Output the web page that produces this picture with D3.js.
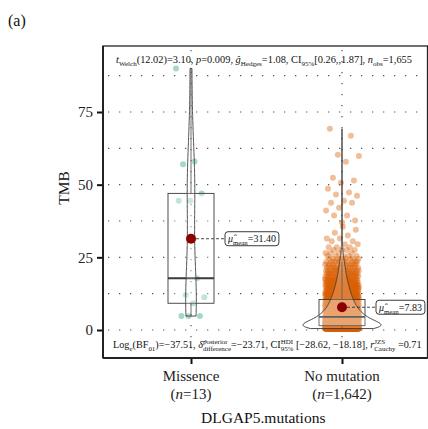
<!DOCTYPE html>
<html>
<head>
<meta charset="utf-8">
<script src="https://cdn.jsdelivr.net/npm/d3@7"></script>
<style>
  body { margin: 0; background: #fff; }
  svg { font-family: "Liberation Serif", "Times New Roman", serif; }
</style>
</head>
<body>
<div id="chart"></div>
<script>
// categories and counts
const categories = ["Missence", "No mutation"];
const groupN = ["13", "1,642"];
const meanValues = [31.40, 7.83];
const meanLabels = ["31.40", "7.83"];

// Missence TMB values (13 samples)
const missenceTMB = [90, 58, 57, 47, 44.5, 44.5, 17.8, 12, 11.3, 9.2, 4.8, 4.8, 4.8];

// No mutation: dense part given as TMB value + number of samples at it
const noMutValues = [0.5, 1.5, 2.5, 3.5, 4.5, 5.5, 6.5, 7.5, 8.5, 9.5, 10.5,
  11.5, 12.5, 13.5, 14.5, 15.5, 16.5, 17.5, 18.5, 19.5, 20.5, 21.5, 22.5, 23.5, 24.5,
  25.5, 26.5, 27.5, 28.5, 29.5, 30.5, 31.5, 32.5, 33.5, 34.5, 35.5, 36.5];
const noMutCounts = [230, 240, 150, 130, 110, 90, 80, 70, 60, 55, 50,
  45, 40, 36, 32, 29, 26, 23, 20, 18, 16, 14, 12, 10, 9,
  5, 4, 4, 3, 2, 2, 2, 1, 1, 1, 1, 0];
// No mutation: sparse high values
const noMutHigh = [69.2, 66.8, 60.3, 59.9, 57.9, 52.4, 51.4, 50.7, 48.6, 47.3, 46.6,
  46.2, 44.5, 43.8, 43.8, 42.1, 41.1, 39.4, 39.4, 37.7, 37.0];

const yTicks = [0, 25, 50, 75];
const yMinor = [12.5, 37.5, 62.5, 87.5];

const pointColors = ["#1B9E77", "#D95F02"];

// build full sample arrays
const noMutTMB = [];
noMutValues.forEach((v, i) => { for (let k = 0; k < noMutCounts[i]; k++) noMutTMB.push(v); });
noMutHigh.forEach(v => noMutTMB.push(v));
const groups = [missenceTMB, noMutTMB];

const width = 428, height = 429;
const panel = { left: 103, right: 427.5, top: 46, bottom: 358 };

const svg = d3.select("#chart").append("svg")
  .attr("width", width)
  .attr("height", height);

const x = d3.scalePoint().domain(categories).range([191, 342]);
const y = d3.scaleLinear().domain([0, 75]).range([330, 112]);

// grid lines (dotted)
const grid = svg.append("g").attr("stroke", "#555").attr("stroke-width", 1.2)
  .attr("stroke-dasharray", "1.3,9.7");
grid.selectAll(".hg")
  .data(yTicks.concat(yMinor))
  .enter().append("line")
  .attr("x1", panel.left + 5).attr("x2", panel.right)
  .attr("y1", d => y(d)).attr("y2", d => y(d));
grid.selectAll(".vg")
  .data(categories)
  .enter().append("line")
  .attr("x1", d => x(d)).attr("x2", d => x(d))
  .attr("y1", panel.top + 4).attr("y2", panel.bottom);

// jittered points
const jitterW = [15, 17];
groups.forEach((vals, gi) => {
  const cx = x(categories[gi]);
  svg.append("g").selectAll("circle")
    .data(vals)
    .enter().append("circle")
    .attr("cx", (d, i) => cx + (((i * 0.6180339887 + 0.31 * gi) % 1) * 2 - 1) * jitterW[gi])
    .attr("cy", d => y(d))
    .attr("r", 3)
    .attr("fill", pointColors[gi])
    .attr("fill-opacity", 0.4);
});

// box plots
const boxHalf = 23;
groups.forEach((vals, gi) => {
  const cx = x(categories[gi]);
  const s = vals.slice().sort(d3.ascending);
  const q1 = d3.quantile(s, 0.25), med = d3.quantile(s, 0.5), q3 = d3.quantile(s, 0.75);
  const iqr = q3 - q1;
  const hi = d3.max(s.filter(v => v <= q3 + 1.5 * iqr));
  const lo = d3.min(s.filter(v => v >= q1 - 1.5 * iqr));
  const g = svg.append("g").attr("stroke", "#3a3a3a").attr("stroke-width", 0.9);
  g.append("line").attr("x1", cx).attr("x2", cx).attr("y1", y(q3)).attr("y2", y(hi));
  g.append("line").attr("x1", cx).attr("x2", cx).attr("y1", y(q1)).attr("y2", y(lo));
  g.append("rect")
    .attr("x", cx - boxHalf).attr("width", boxHalf * 2)
    .attr("y", y(q3)).attr("height", y(q1) - y(q3))
    .attr("fill", "#fff").attr("fill-opacity", 0.3);
  g.append("line").attr("x1", cx - boxHalf).attr("x2", cx + boxHalf)
    .attr("y1", y(med)).attr("y2", y(med)).attr("stroke-width", 1.8);
});

// violins (gaussian kde, trimmed, equal area scaling)
function bwNrd0(v) {
  const s = v.slice().sort(d3.ascending);
  const iqr = d3.quantile(s, 0.75) - d3.quantile(s, 0.25);
  return 0.9 * Math.min(d3.deviation(s), iqr / 1.34) * Math.pow(s.length, -0.2);
}
const dens = groups.map(vals => {
  const bw = bwNrd0(vals);
  const lo = d3.min(vals), hi = d3.max(vals);
  return d3.range(0, 201).map(k => {
    const t = lo + (hi - lo) * k / 200;
    const d = d3.mean(vals, v => Math.exp(-0.5 * ((t - v) / bw) ** 2)) / (bw * Math.sqrt(2 * Math.PI));
    return [t, d];
  });
});
const maxD = d3.max(dens, ds => d3.max(ds, d => d[1]));
const violinHalf = 39;
dens.forEach((ds, gi) => {
  const cx = x(categories[gi]);
  const area = d3.area()
    .y(d => y(d[0]))
    .x0(d => cx - d[1] / maxD * violinHalf)
    .x1(d => cx + d[1] / maxD * violinHalf);
  svg.append("path")
    .datum(ds)
    .attr("d", area)
    .attr("fill", "#fff").attr("fill-opacity", 0.2)
    .attr("stroke", "#3a3a3a").attr("stroke-width", 0.9);
});

// rich text helper: parts = [text, pos ("", "sub", "sup"), italic, stackUnderPrev]
function richText(parent, x0, y0, parts, size, targetW) {
  function build(fs) {
    const t = parent.append("text").attr("x", x0).attr("y", y0).attr("font-size", fs).attr("fill", "#111");
    let shift = 0, prevW = 0, pad = 0;
    parts.forEach(p => {
      const [str, pos, it, under] = p;
      const target = pos === "sub" ? 0.28 * fs : pos === "sup" ? -0.38 * fs : 0;
      const ts = t.append("tspan")
        .attr("dy", target - shift)
        .attr("font-size", pos ? fs * 0.68 : fs)
        .attr("font-style", it ? "italic" : "normal")
        .text(str);
      let dx = pad;
      if (under) dx = -prevW;
      if (dx) ts.attr("dx", dx);
      shift = target;
      const w = ts.node().getComputedTextLength();
      pad = under ? Math.max(0, prevW - w) : 0;
      prevW = w;
    });
    return t;
  }
  let t = build(size);
  if (targetW) {
    const w = t.node().getBBox().width;
    t.remove();
    t = build(size * targetW / w);
  }
  return t;
}

// mean points and labels
meanValues.forEach((m, gi) => {
  const cx = x(categories[gi]), cy = y(m);
  const lx = cx + 34;
  const lab = richText(svg, lx + 3, cy + 3.5, [["\u03BC\u0302", "", true], ["mean", "sub", false], ["=" + meanLabels[gi], "", false]], 10);
  const bb = lab.node().getBBox();
  svg.insert("rect", () => lab.node())
    .attr("x", lx).attr("y", cy - 7)
    .attr("width", bb.width + 5).attr("height", 14)
    .attr("rx", 3)
    .attr("fill", "#fff").attr("stroke", "#222").attr("stroke-width", 0.9);
  svg.append("line")
    .attr("x1", cx).attr("x2", lx).attr("y1", cy).attr("y2", cy)
    .attr("stroke", "#333").attr("stroke-width", 0.9).attr("stroke-dasharray", "3,2");
  svg.append("circle")
    .attr("cx", cx).attr("cy", cy).attr("r", 5)
    .attr("fill", "#8B0000");
});

// panel frame
svg.append("rect")
  .attr("x", panel.left).attr("y", panel.top)
  .attr("width", panel.right - panel.left).attr("height", panel.bottom - panel.top)
  .attr("fill", "none").attr("stroke", "#222").attr("stroke-width", 1.3);

// axes
const yAxis = d3.axisLeft(y).tickValues(yTicks).tickSize(6).tickPadding(4);
const gy = svg.append("g").attr("transform", `translate(${panel.left},0)`).call(yAxis);
gy.select(".domain").remove();
gy.append("line").attr("x1", 0).attr("x2", 0).attr("y1", panel.top).attr("y2", panel.bottom)
  .attr("stroke", "#222").attr("stroke-width", 2);
gy.selectAll(".tick line").attr("stroke", "#111").attr("stroke-width", 2);
gy.selectAll(".tick text").attr("font-family", "Liberation Serif").attr("font-size", 15).attr("fill", "#222");

const xAxis = d3.axisBottom(x).tickSize(6).tickFormat("");
const gx = svg.append("g").attr("transform", `translate(0,${panel.bottom})`).call(xAxis);
gx.select(".domain").remove();
gx.append("line").attr("x1", panel.left).attr("x2", panel.right).attr("y1", 0).attr("y2", 0)
  .attr("stroke", "#222").attr("stroke-width", 2);
gx.selectAll(".tick line").attr("stroke", "#111").attr("stroke-width", 2);

// x tick labels, two lines
categories.forEach((c, i) => {
  svg.append("text")
    .attr("x", x(c)).attr("y", 381)
    .attr("text-anchor", "middle").attr("font-size", 15).attr("fill", "#222")
    .text(c);
  const t = svg.append("text")
    .attr("x", x(c)).attr("y", 399)
    .attr("text-anchor", "middle").attr("font-size", 15).attr("fill", "#222");
  t.append("tspan").text("(");
  t.append("tspan").attr("font-style", "italic").text("n");
  t.append("tspan").text("=" + groupN[i] + ")");
});

// axis titles
svg.append("text")
  .attr("x", (panel.left + panel.right) / 2 - 2).attr("y", 423)
  .attr("text-anchor", "middle").attr("font-size", 15.5).attr("fill", "#111")
  .text("DLGAP5.mutations");
svg.append("text")
  .attr("transform", "translate(69,188) rotate(-90)")
  .attr("text-anchor", "middle").attr("font-size", 15.5).attr("fill", "#111")
  .text("TMB");

// panel tag
svg.append("text").attr("x", 8).attr("y", 26).attr("font-size", 16).attr("fill", "#111").text("(a)");

// subtitle (top) and caption (bottom) inside the panel
richText(svg, 116, 63, [
  ["t", "", true], ["Welch", "sub", false], ["(12.02)=3.10, ", "", false],
  ["p", "", true], ["=0.009, ", "", false],
  ["\u011D", "", true], ["Hedges", "sub", false], ["=1.08, CI", "", false], ["95%", "sub", false],
  ["[0.26,,1.87], ", "", false],
  ["n", "", true], ["obs", "sub", false], ["=1,655", "", false]
], 10, 296);

richText(svg, 113, 348, [
  ["Log", "", false], ["e", "sub", true], ["(BF", "", false], ["01", "sub", false],
  [")=\u221237.51, ", "", false],
  ["\u03B4\u0302", "", true], ["posterior", "sup", false], ["difference", "sub", false, true],
  ["=\u221223.71, CI", "", false], ["HDI", "sup", false], ["95%", "sub", false, true],
  [" [\u221228.62, \u221218.18], ", "", false],
  ["r", "", true], ["JZS", "sup", false], ["Cauchy", "sub", false, true], [" =0.71", "", false]
], 10, 309);
</script>
</body>
</html>
